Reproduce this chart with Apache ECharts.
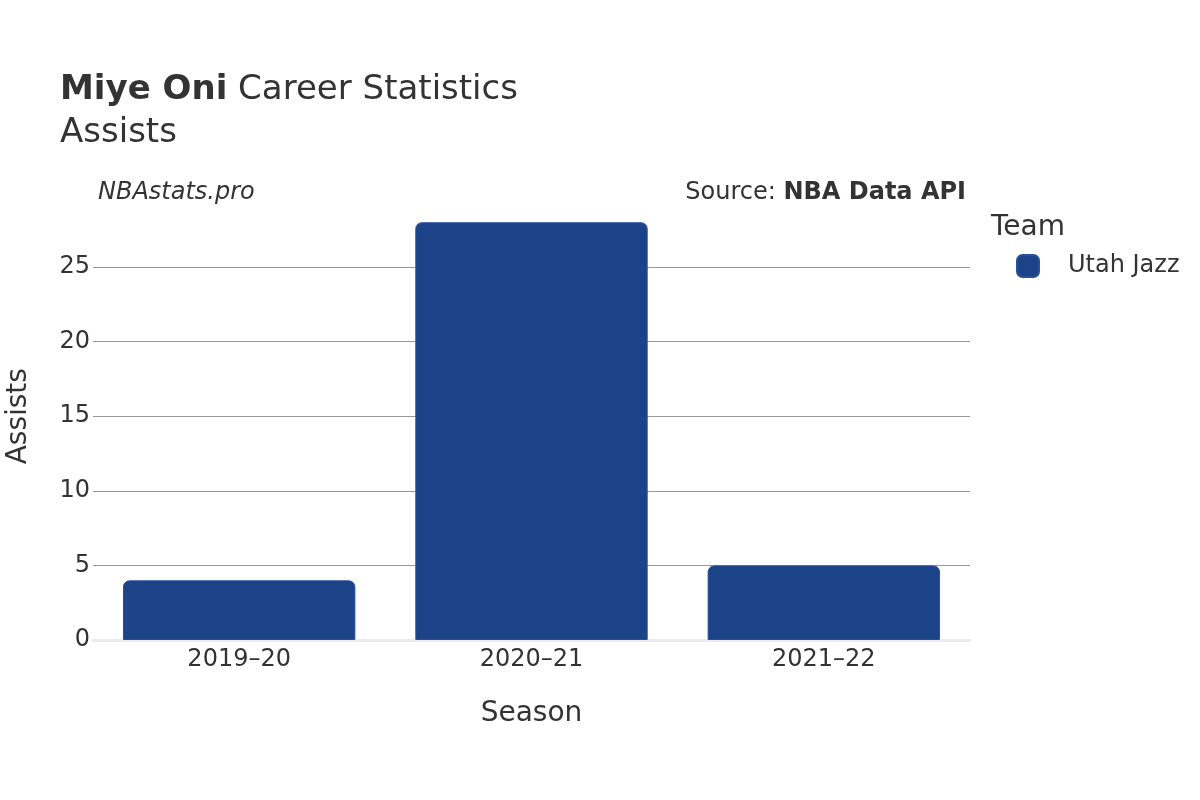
<!DOCTYPE html>
<html><head><meta charset="utf-8">
<script src="https://cdn.jsdelivr.net/npm/echarts@6/dist/echarts.min.js"></script>
<style>html,body{margin:0;padding:0;background:#fff}#c{width:1200px;height:800px}</style>
</head><body><div id="c"></div>
<script>
const seasons = ['2019\u201320', '2020\u201321', '2021\u201322'];
const assists = [4, 28, 5];
const teamName = 'Utah Jazz';
const yTicks = [0, 5, 10, 15, 20, 25];

const chart = echarts.init(document.getElementById('c'));
const font = 'DejaVu Sans';
chart.setOption({
  animation: false,
  textStyle: {fontFamily: font},
  title: [
    {text: '{b|Miye Oni} Career Statistics', left: 55, top: 68,
     textStyle: {fontSize: 34, fontWeight: 'normal', color: '#333', fontFamily: font,
       rich: {b: {fontSize: 34, fontWeight: 'bold', color: '#333', fontFamily: font}}}},
    {text: 'Assists', left: 55, top: 111, textStyle: {fontSize: 34, fontWeight: 'normal', color: '#333', fontFamily: font}},
    {text: 'NBAstats.pro', left: 93, top: 176, textStyle: {fontSize: 24, fontStyle: 'italic', fontWeight: 'normal', color: '#333', fontFamily: font}},
    {text: 'Source: {b|NBA Data API}', right: 229, top: 176,
     textStyle: {fontSize: 24, fontWeight: 'normal', color: '#333', fontFamily: font,
       rich: {b: {fontSize: 24, fontWeight: 'bold', color: '#333', fontFamily: font}}}},
    {text: 'Team', left: 986, top: 209, textStyle: {fontSize: 28, fontWeight: 'normal', color: '#333', fontFamily: font}}
  ],
  legend: {
    left: 1011, top: 249, orient: 'vertical',
    itemWidth: 22, itemHeight: 22, itemGap: 10,
    icon: 'roundRect',
    textStyle: {fontSize: 24, color: '#333', fontFamily: font, padding: [0, 0, 0, 24]},
    data: [teamName]
  },
  grid: {left: 93, right: 230, top: 192.4, bottom: 160, outerBoundsMode: 'none', containLabel: false},
  xAxis: {
    type: 'category', data: seasons,
    name: 'Season', nameLocation: 'middle', nameGap: 60,
    nameTextStyle: {fontSize: 28, color: '#333', fontFamily: font},
    axisLine: {show: true, lineStyle: {color: '#ebebeb', width: 3}},
    axisTick: {show: false},
    axisLabel: {fontSize: 24, color: '#333', margin: 8, fontFamily: font}
  },
  yAxis: {
    type: 'value', min: 0, max: 30, interval: 5,
    name: 'Assists', nameLocation: 'middle', nameGap: 60,
    nameTextStyle: {fontSize: 28, color: '#333', fontFamily: font},
    axisLine: {show: false}, axisTick: {show: false},
    axisLabel: {fontSize: 24, color: '#333', margin: 3, fontFamily: font, showMaxLabel: false},
    splitLine: {show: true, showMaxLine: false, showMinLine: false, lineStyle: {color: '#999', width: 1}}
  },
  series: [{
    name: teamName, type: 'bar', data: assists,
    barCategoryGap: '20.5%',
    itemStyle: {color: '#1c4287', borderRadius: [6, 6, 0, 0], borderColor: '#2a509a', borderWidth: 1}
  }]
});
</script></body></html>
